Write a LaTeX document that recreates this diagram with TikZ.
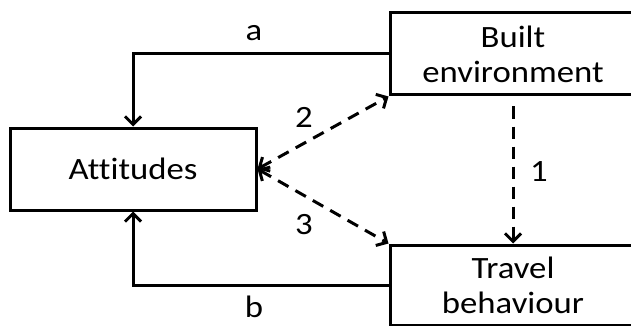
\documentclass[tikz,border=0pt]{standalone}
\usepackage{fontspec}
\setmainfont{Carlito}[FakeStretch=1.12, Ligatures=CommonOff]
\usetikzlibrary{arrows.meta}
\begin{document}
\begin{tikzpicture}[x=1pt,y=-1pt,
  box/.style={draw, line width=3pt, inner sep=0pt, align=center,
    font=\fontsize{31}{35}\selectfont},
  tip/.tip={Straight Barb[length=8pt,width=16pt,line width=3pt]},
  link/.style={line width=3pt, -tip},
  dlink/.style={link, dash pattern=on 12pt off 8pt},
  lbl/.style={inner sep=0pt, font=\fontsize{31}{35}\selectfont}]
\useasboundingbox (0,0) rectangle (631,326);
\clip (0,0) rectangle (631,326);

% the three boxes
\node[box, minimum width=246pt, minimum height=82pt] (att) at (133,169) {Attitudes};
\node[box, minimum width=246pt, minimum height=82pt] (be) at (513,54) {Built\\environment};
\node[box, minimum width=246pt, minimum height=80pt] (tb) at (513,285) {Travel\\behaviour};

% feedback paths a and b
\draw[link] (be.west) -| (att.north);
\draw[link] (tb.west) -| (att.south);

% hypothesised dashed paths
\draw[dlink, tip-tip] (att.east) -- (be.south west);
\draw[dlink, tip-tip] (att.east) -- (tb.north west);
\coordinate (d1) at ([yshift=-10pt]be.south);
\draw[dlink] (d1) -- (tb.north);

% path labels
\node[lbl] (la) at (254,33) {a};
\node[lbl] (lb) at (254,307) {b};
\node[lbl] (l2) at (304,117) {2};
\node[lbl] (l3) at (304,225) {3};
\node[lbl] (l1) at (539,172) {1};
\end{tikzpicture}
\end{document}
